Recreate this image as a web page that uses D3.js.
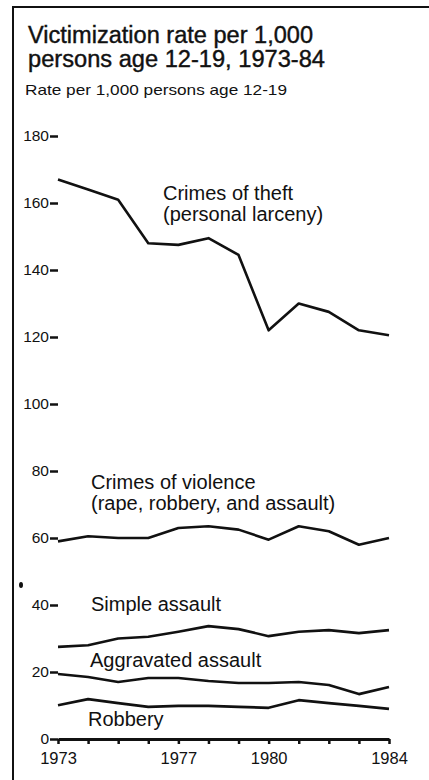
<!DOCTYPE html>
<html>
<head>
<meta charset="utf-8">
<script src="https://cdn.jsdelivr.net/npm/d3@7"></script>
<style>
  body { margin: 0; background: #fff; }
  svg { display: block; font-family: "Liberation Sans", Arial, sans-serif; }
</style>
</head>
<body>
<div id="chart"></div>
<script>
// Chart data
const years = [1973, 1974, 1975, 1976, 1977, 1978, 1979, 1980, 1981, 1982, 1983, 1984];
const theft = [167, 164, 161, 148, 147.5, 149.5, 144.5, 122, 130, 127.5, 122, 120.5];
const violence = [59, 60.5, 60, 60, 63, 63.5, 62.5, 59.5, 63.5, 62, 58, 60];
const simpleAssault = [27.5, 28, 30, 30.5, 32, 33.7, 32.8, 30.7, 32, 32.5, 31.6, 32.5];
const aggravatedAssault = [19.4, 18.5, 17, 18.2, 18.2, 17.3, 16.7, 16.7, 17, 16.1, 13.4, 15.5];
const robbery = [10.1, 11.9, 10.7, 9.6, 9.9, 9.9, 9.6, 9.3, 11.6, 10.7, 9.9, 9];
const yTicks = [0, 20, 40, 60, 80, 100, 120, 140, 160, 180];
const xTickLabels = [1973, 1977, 1980, 1984];
const titleLines = ["Victimization rate per 1,000", "persons age 12-19, 1973-84"];
const yAxisTitle = "Rate per 1,000 persons age 12-19";

const seriesList = [
  {values: theft, label: ["Crimes of theft", "(personal larceny)"], lx: 163, ly: 200},
  {values: violence, label: ["Crimes of violence", "(rape, robbery, and assault)"], lx: 91, ly: 489},
  {values: simpleAssault, label: ["Simple assault"], lx: 91, ly: 611},
  {values: aggravatedAssault, label: ["Aggravated assault"], lx: 90, ly: 667},
  {values: robbery, label: ["Robbery"], lx: 88, ly: 726}
];

const width = 429, height = 780;

const svg = d3.select("#chart")
  .append("svg")
  .attr("width", width)
  .attr("height", height);

// frame (top and left rules)
svg.append("path")
  .attr("d", "M13,780 L13,7 L429,7")
  .attr("fill", "none")
  .attr("stroke", "#111")
  .attr("stroke-width", 2);

// title
const titleWidths = [285, 297];
svg.append("g").selectAll("text")
  .data(titleLines)
  .enter()
  .append("text")
  .attr("x", 28)
  .attr("y", (d, i) => 43 + i * 24)
  .attr("font-size", 23)
  .attr("textLength", (d, i) => titleWidths[i])
  .attr("lengthAdjust", "spacingAndGlyphs")
  .attr("fill", "#111")
  .attr("stroke", "#111")
  .attr("stroke-width", 0.4)
  .text(d => d);

svg.append("text")
  .attr("x", 25)
  .attr("y", 95)
  .attr("font-size", 15)
  .attr("textLength", 262)
  .attr("lengthAdjust", "spacingAndGlyphs")
  .attr("fill", "#111")
  .text(yAxisTitle);

const xScale = d3.scaleLinear()
  .domain([1973, 1984])
  .range([58, 389]);
const yScale = d3.scaleLinear()
  .domain([0, 180])
  .range([739, 136]);

// y axis: labels with short dash ticks, no domain line
const yAxis = svg.append("g")
  .attr("transform", "translate(58,0)")
  .call(d3.axisLeft(yScale).tickValues(yTicks).tickSize(8).tickPadding(1));
yAxis.select(".domain").remove();
yAxis.selectAll(".tick line").attr("stroke", "#111").attr("stroke-width", 2.5);
yAxis.selectAll(".tick text")
  .attr("font-size", 15.5)
  .attr("font-family", "Liberation Sans, Arial, sans-serif")
  .attr("fill", "#111");

// x axis: heavy rule with a tick every year
const xAxis = svg.append("g")
  .attr("transform", "translate(0,739)")
  .call(d3.axisBottom(xScale)
    .tickValues(years)
    .tickSize(5)
    .tickSizeOuter(0)
    .tickFormat(d => xTickLabels.includes(d) ? d : ""));
xAxis.select(".domain").attr("stroke", "#111").attr("stroke-width", 3);
xAxis.selectAll(".tick line").attr("stroke", "#111").attr("stroke-width", 2.5);
xAxis.selectAll(".tick text")
  .attr("font-size", 16.5)
  .attr("font-family", "Liberation Sans, Arial, sans-serif")
  .attr("fill", "#111")
  .attr("dy", "1.05em");

// lines
const line = d3.line()
  .x((d, i) => xScale(years[i]))
  .y(d => yScale(d));

svg.append("g").selectAll("path")
  .data(seriesList)
  .enter()
  .append("path")
  .attr("d", d => line(d.values))
  .attr("fill", "none")
  .attr("stroke", "#111")
  .attr("stroke-width", 2.6)
  .attr("stroke-linejoin", "round");

// series labels
const labels = svg.append("g").selectAll("text")
  .data(seriesList)
  .enter()
  .append("text")
  .attr("font-size", 20)
  .attr("fill", "#111");
labels.selectAll("tspan")
  .data(d => d.label.map((t, i) => ({t: t, x: d.lx, y: d.ly + i * 21})))
  .enter()
  .append("tspan")
  .attr("x", d => d.x)
  .attr("y", d => d.y)
  .text(d => d.t);

// small ink mark left of the 40 tick
svg.append("ellipse")
  .attr("cx", 21).attr("cy", 585)
  .attr("rx", 2).attr("ry", 3)
  .attr("fill", "#111");
</script>
</body>
</html>
